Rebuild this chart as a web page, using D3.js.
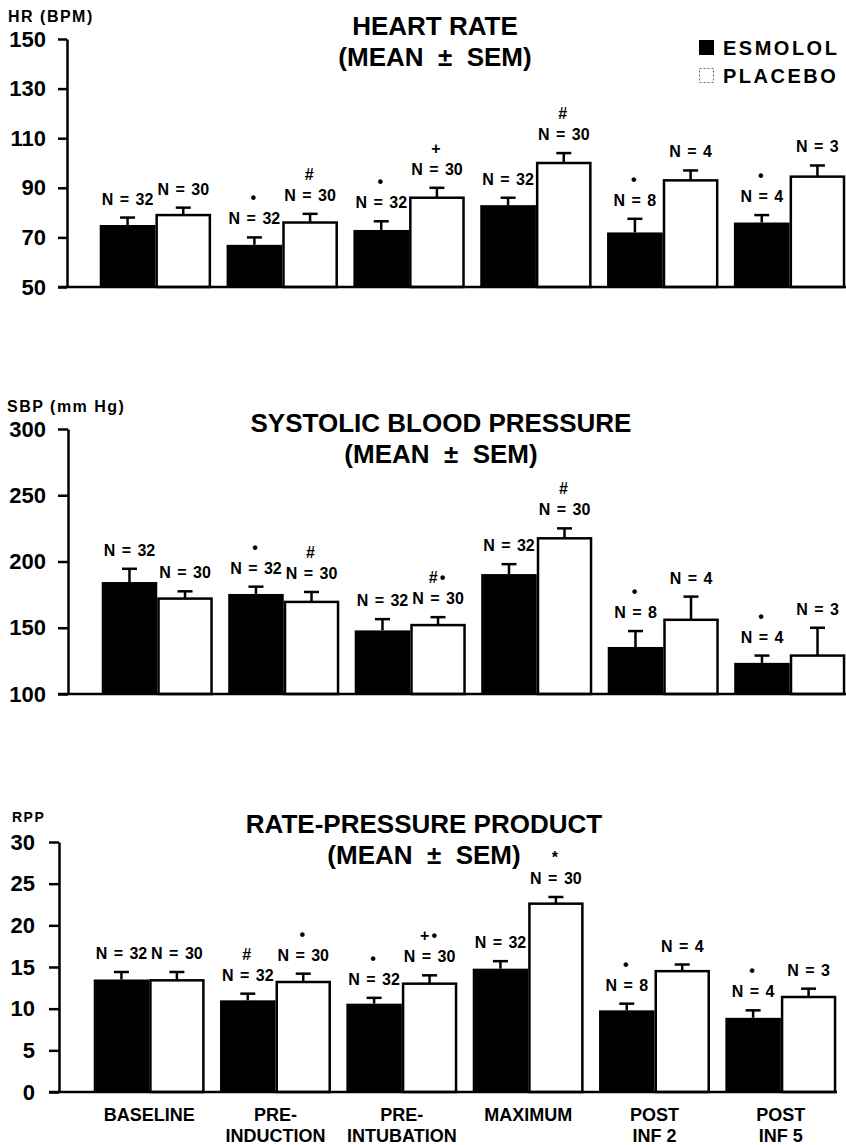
<!DOCTYPE html>
<html>
<head>
<meta charset="utf-8">
<script src="https://cdn.jsdelivr.net/npm/d3@7"></script>
<style>
  body { margin: 0; background: #fff; }
  text { font-family: "Liberation Sans", Arial, Helvetica, sans-serif; font-weight: bold; fill: #000; }
</style>
</head>
<body>
<div id="chart"></div>
<script>
//---------------------------------------------------------------------------------------------------------------------
// Data
var groupLabels = [["BASELINE"], ["PRE-", "INDUCTION"], ["PRE-", "INTUBATION"], ["MAXIMUM"], ["POST", "INF 2"], ["POST", "INF 5"]];
var seriesNames = ["ESMOLOL", "PLACEBO"];

var esmololN = [32, 32, 32, 32, 8, 4];
var placeboN = [30, 30, 30, 30, 4, 3];

// heart rate
var hrTicks = [50, 70, 90, 110, 130, 150];
var hrEsmolol = [75, 67, 73, 83, 72, 76];
var hrEsmololSem = [3, 3, 3.5, 3, 5.5, 3];
var hrPlacebo = [79, 76, 86, 100, 93, 94.5];
var hrPlaceboSem = [3, 3.5, 4, 4, 4, 4.5];
var hrEsmololMarks = ["", "•", "•", "", "•", "•"];
var hrPlaceboMarks = ["", "#", "+", "#", "", ""];

// systolic blood pressure
var sbpTicks = [100, 150, 200, 250, 300];
var sbpEsmolol = [184.5, 175.5, 148, 190.5, 135.5, 123.5];
var sbpEsmololSem = [10, 5.5, 8.5, 7.5, 12, 5.5];
var sbpPlacebo = [172, 169.5, 152, 217.5, 156, 129];
var sbpPlaceboSem = [5.5, 7.5, 6, 7.5, 17.5, 21];
var sbpEsmololMarks = ["", "•", "", "", "•", "•"];
var sbpPlaceboMarks = ["", "#", "#•", "#", "", ""];

// rate pressure product
var rppTicks = [0, 5, 10, 15, 20, 25, 30];
var rppEsmolol = [13.5, 11, 10.6, 14.8, 9.8, 8.9];
var rppEsmololSem = [0.9, 0.8, 0.7, 0.9, 0.8, 0.9];
var rppPlacebo = [13.4, 13.2, 13, 22.6, 14.5, 11.4];
var rppPlaceboSem = [1, 1, 1, 0.8, 0.8, 1];
var rppEsmololMarks = ["", "#", "•", "", "•", "•"];
var rppPlaceboMarks = ["", "•", "+•", "*", "", ""];

//---------------------------------------------------------------------------------------------------------------------
// svg
var svgWidth = 846;
var svgHeight = 1145;

var svg = d3.select("#chart").append("svg").attr("width", svgWidth).attr("height", svgHeight).style("display", "block");

// draws one of the three bar panels
function drawPanel(p) {
  var yScale = d3.scaleLinear().domain([p.ticks[0], p.ticks[p.ticks.length - 1]]).range([p.yBase, p.yTop]);
  var xScale = d3.scaleBand().domain(d3.range(groupLabels.length)).range(p.xRange).paddingInner(0.122).paddingOuter(0.061);
  var xSub = d3.scaleBand().domain([0, 1]).range([0, xScale.bandwidth()]);

  var panel = svg.append("g");

  // titles
  panel.append("text").attr("x", p.titleX).attr("y", p.titleY).attr("text-anchor", "middle").style("font-size", "26px").text(p.title);
  panel.append("text").attr("x", p.titleX).attr("y", p.titleY + 31).attr("text-anchor", "middle").style("font-size", "26px").style("white-space", "pre").text("(MEAN  ±  SEM)");
  panel.append("text").attr("x", p.yTitleX).attr("y", p.yTitleY).style("font-size", p.yTitleSize).style("letter-spacing", "1.5px").text(p.yTitle);

  // y axis
  var leftAxis = d3.axisLeft(yScale).tickValues(p.ticks).tickSize(p.tickLen).tickSizeOuter(0).tickPadding(p.tickPad).tickFormat(d3.format("d"));
  var axisG = panel.append("g").attr("transform", "translate(" + p.axisX + ",0)").call(leftAxis);
  axisG.select(".domain").attr("stroke", "#000").attr("stroke-width", 2.5);
  axisG.selectAll(".tick line").attr("stroke", "#000").attr("stroke-width", 2.5);
  axisG.selectAll(".tick text").style("font-size", "22px");

  // one record per bar
  var bars = [];
  for (var i = 0; i < groupLabels.length; i++) {
    bars.push({ g: i, s: 0, v: p.esm[i], sem: p.esmSem[i], n: esmololN[i], mark: p.esmMarks[i] });
    bars.push({ g: i, s: 1, v: p.plc[i], sem: p.plcSem[i], n: placeboN[i], mark: p.plcMarks[i] });
  }

  function barCenter(d) {
    return xScale(d.g) + xSub(d.s) + xSub.bandwidth() / 2;
  }

  // error bars go behind the bars
  var err = panel.append("g").attr("stroke", "#000").attr("stroke-width", 2.5);
  err.selectAll("line.stem").data(bars).enter().append("line").attr("class", "stem")
    .attr("x1", barCenter).attr("x2", barCenter)
    .attr("y1", function(d) { return yScale(d.v); })
    .attr("y2", function(d) { return yScale(d.v + d.sem); });
  err.selectAll("line.cap").data(bars).enter().append("line").attr("class", "cap")
    .attr("x1", function(d) { return barCenter(d) - 7.5; })
    .attr("x2", function(d) { return barCenter(d) + 7.5; })
    .attr("y1", function(d) { return yScale(d.v + d.sem); })
    .attr("y2", function(d) { return yScale(d.v + d.sem); });

  panel.selectAll("rect.bar").data(bars).enter().append("rect").attr("class", "bar")
    .attr("x", function(d) { return xScale(d.g) + xSub(d.s) + (d.s === 1 ? 1.25 : 0); })
    .attr("width", function(d) { return xSub.bandwidth() - (d.s === 1 ? 2.5 : 0); })
    .attr("y", function(d) { return yScale(d.v); })
    .attr("height", function(d) { return p.yBase - yScale(d.v); })
    .attr("fill", function(d) { return d.s === 0 ? "#000" : "#fff"; })
    .attr("stroke", function(d) { return d.s === 0 ? "none" : "#000"; })
    .attr("stroke-width", 2.5);

  // baseline
  panel.append("line").attr("x1", p.axisX - p.tickLen).attr("x2", p.xRange[1] - 7)
    .attr("y1", p.yBase).attr("y2", p.yBase).attr("stroke", "#000").attr("stroke-width", 2.5);

  // N labels and significance marks
  panel.selectAll("text.nlab").data(bars).enter().append("text").attr("class", "nlab")
    .attr("x", barCenter).attr("y", function(d) { return yScale(d.v + d.sem) - 13; })
    .attr("text-anchor", "middle").style("font-size", "16px").style("word-spacing", "2px")
    .text(function(d) { return "N = " + d.n; });
  panel.selectAll("text.mark").data(bars).enter().append("text").attr("class", "mark")
    .attr("x", barCenter).attr("y", function(d) { return yScale(d.v + d.sem) - 34; })
    .attr("text-anchor", "middle").style("font-size", "16px").style("letter-spacing", "2px")
    .text(function(d) { return d.mark; });

  return xScale;
}

drawPanel({
  title: "HEART RATE", titleX: 435, titleY: 35, yTitle: "HR (BPM)", yTitleX: 8, yTitleY: 22, yTitleSize: "16px",
  ticks: hrTicks, yTop: 39, yBase: 287, axisX: 67, tickLen: 9, tickPad: 12, xRange: [92, 853],
  esm: hrEsmolol, esmSem: hrEsmololSem, plc: hrPlacebo, plcSem: hrPlaceboSem, esmMarks: hrEsmololMarks, plcMarks: hrPlaceboMarks
});

drawPanel({
  title: "SYSTOLIC BLOOD PRESSURE", titleX: 441, titleY: 432, yTitle: "SBP (mm Hg)", yTitleX: 7, yTitleY: 412, yTitleSize: "16px",
  ticks: sbpTicks, yTop: 429, yBase: 694, axisX: 68, tickLen: 10, tickPad: 12, xRange: [94, 853],
  esm: sbpEsmolol, esmSem: sbpEsmololSem, plc: sbpPlacebo, plcSem: sbpPlaceboSem, esmMarks: sbpEsmololMarks, plcMarks: sbpPlaceboMarks
});

var xBottom = drawPanel({
  title: "RATE-PRESSURE PRODUCT", titleX: 424, titleY: 833, yTitle: "RPP", yTitleX: 12, yTitleY: 822, yTitleSize: "14px",
  ticks: rppTicks, yTop: 842, yBase: 1092, axisX: 59, tickLen: 10, tickPad: 14, xRange: [86, 844],
  esm: rppEsmolol, esmSem: rppEsmololSem, plc: rppPlacebo, plcSem: rppPlaceboSem, esmMarks: rppEsmololMarks, plcMarks: rppPlaceboMarks
});

// category labels under the last panel
var catText = svg.append("g").selectAll("text").data(groupLabels).enter().append("text")
  .attr("x", function(d, i) { return xBottom(i) + xBottom.bandwidth() / 2; })
  .attr("y", 1121).attr("text-anchor", "middle").style("font-size", "18px");
catText.selectAll("tspan").data(function(d) { return d; }).enter().append("tspan")
  .attr("x", function() { return d3.select(this.parentNode).attr("x"); })
  .attr("dy", function(d, i) { return i === 0 ? 0 : 21; })
  .text(function(d) { return d; });

//---------------------------------------------------------------------------------------------------------------------
// legend
var legend = svg.append("g").selectAll("g").data(seriesNames).enter().append("g")
  .attr("transform", function(d, i) { return "translate(699," + (40 + i * 28) + ")"; });
legend.append("rect").attr("x", 0.5).attr("y", 0.5).attr("width", 14).attr("height", 14)
  .attr("fill", function(d, i) { return i === 0 ? "#000" : "#fff"; })
  .attr("stroke", function(d, i) { return i === 0 ? "#000" : "#666"; })
  .attr("stroke-dasharray", function(d, i) { return i === 0 ? null : "2,2"; });
legend.append("text").attr("x", 24).attr("y", 15).style("font-size", "20px").style("letter-spacing", "2.5px").text(function(d) { return d; });
</script>
</body>
</html>
